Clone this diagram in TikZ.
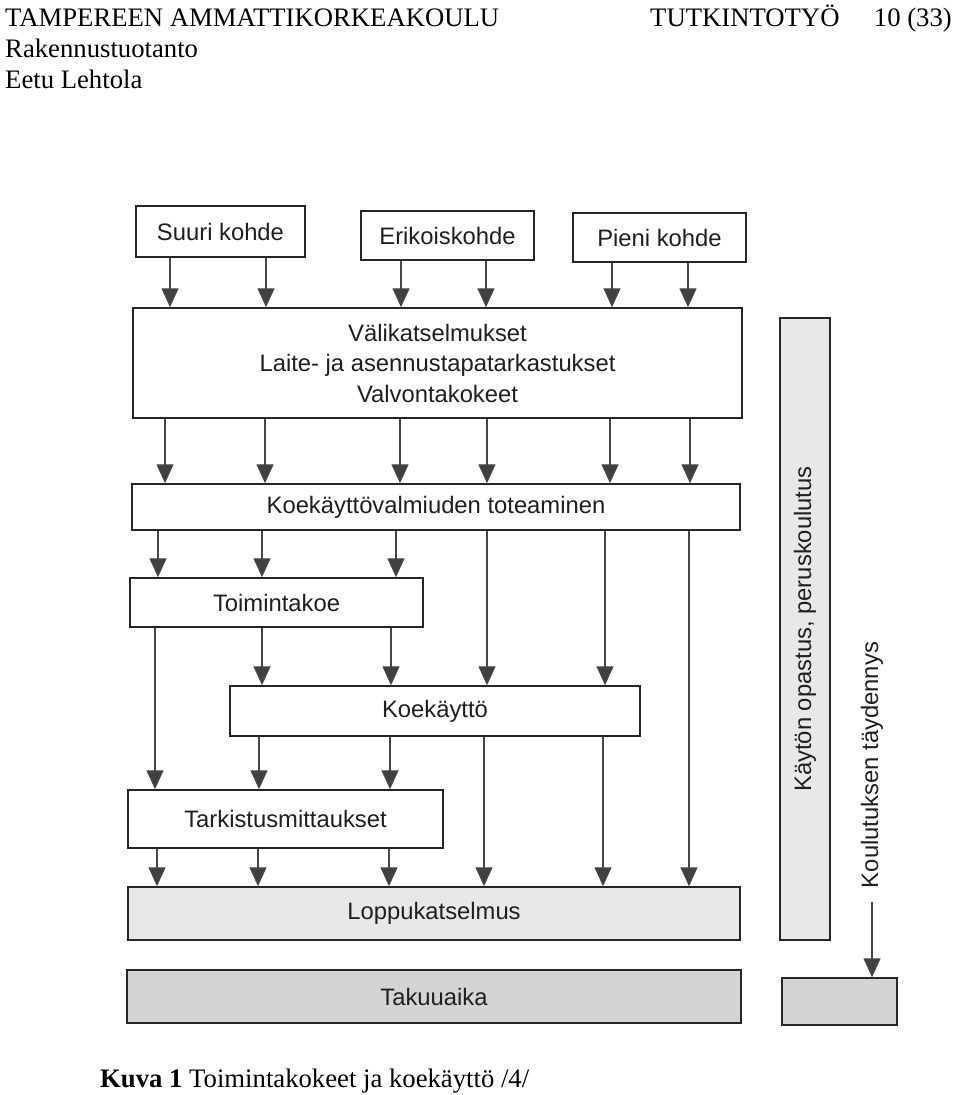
\documentclass[tikz,border=0pt]{standalone}
\usepackage{fontspec}
\setmainfont{Liberation Serif}
\newfontfamily\diagfont{Liberation Sans}
\usetikzlibrary{positioning,shapes,arrows.meta}

\begin{document}
\begin{tikzpicture}[x=1pt, y=-1pt,
  box/.style={draw=black!85, line width=1.4pt, inner sep=0pt, align=center,
    text=black!88, font=\diagfont\fontsize{23.8}{30.5}\selectfont},
  flow/.style={draw=black!72, line width=1.3pt, -{Triangle[width=17pt,length=19pt,fill=black!75]}},
  head/.style={inner sep=0pt, font=\fontsize{26.7}{31}\selectfont}]
  \useasboundingbox[fill=white] (0,0) rectangle (960,1095);

  % page head
  \node[head, anchor=base west] (school) at (5,26) {TAMPEREEN AMMATTIKORKEAKOULU};
  \node[head, anchor=base west] (work) at (650,26) {TUTKINTOTYÖ};
  \node[head, anchor=base east] (page) at (952,26) {10 (33)};
  \node[head, anchor=base west] (dept) at (5,57) {Rakennustuotanto};
  \node[head, anchor=base west] (writer) at (5,88) {Eetu Lehtola};

  % boxes
  \node[box, minimum width=169pt, minimum height=51pt] (suuri) at (220.5,231.5) {Suuri kohde};
  \node[box, minimum width=173pt, minimum height=49pt] (erikois) at (447.5,235.5) {Erikoiskohde};
  \node[box, minimum width=173pt, minimum height=49pt] (pieni) at (659.5,237.5) {Pieni kohde};
  \node[box, minimum width=609pt, minimum height=110pt] (vali) at (437.5,363)
    {Välikatselmukset\\Laite- ja asennustapatarkastukset\\Valvontakokeet};
  \node[box, minimum width=608pt, minimum height=46pt] (valmius) at (436,507) {Koekäyttövalmiuden toteaminen};
  \node[box, minimum width=293pt, minimum height=49pt] (toiminta) at (276.5,602.5) {Toimintakoe};
  \node[box, minimum width=410pt, minimum height=50pt] (koekaytto) at (435,711) {Koekäyttö};
  \node[box, minimum width=315pt, minimum height=58pt] (tarkistus) at (285.5,819) {Tarkistusmittaukset};
  \node[box, fill=black!9, minimum width=612pt, minimum height=53pt] (loppu) at (434,913.5) {Loppukatselmus};
  \node[box, fill=black!17, minimum width=614pt, minimum height=53pt] (takuu) at (434,996.5) {Takuuaika};
  \node[box, fill=black!9, rotate=90, minimum width=622pt, minimum height=50pt] (opastus) at (805,629)
    {Käytön opastus, peruskoulutus};
  \node[box, draw=none, rotate=90, inner xsep=13pt] (taydennys) at (872,765) {Koulutuksen täydennys};
  \node[box, fill=black!17, minimum width=115pt, minimum height=47pt] (jatko) at (839.5,1001.5) {};

  % connectors
  \foreach \x/\from in {170/suuri, 266/suuri, 401/erikois, 486/erikois, 612/pieni, 688/pieni}
    \draw[flow] (\from.south -| \x,0) -- (vali.north -| \x,0);
  \foreach \x in {165, 265, 400, 487, 610, 690}
    \draw[flow] (vali.south -| \x,0) -- (valmius.north -| \x,0);
  \foreach \x in {158, 262, 396}
    \draw[flow] (valmius.south -| \x,0) -- (toiminta.north -| \x,0);
  \foreach \x in {487, 605}
    \draw[flow] (valmius.south -| \x,0) -- (koekaytto.north -| \x,0);
  \draw[flow] (valmius.south -| 689,0) -- (loppu.north -| 689,0);
  \draw[flow] (toiminta.south -| 155,0) -- (tarkistus.north -| 155,0);
  \foreach \x in {262, 391}
    \draw[flow] (toiminta.south -| \x,0) -- (koekaytto.north -| \x,0);
  \foreach \x in {259, 390}
    \draw[flow] (koekaytto.south -| \x,0) -- (tarkistus.north -| \x,0);
  \foreach \x in {484, 603}
    \draw[flow] (koekaytto.south -| \x,0) -- (loppu.north -| \x,0);
  \foreach \x in {157, 258, 389}
    \draw[flow] (tarkistus.south -| \x,0) -- (loppu.north -| \x,0);
  \draw[flow] (taydennys.west) -- (jatko.north -| taydennys.west);

  % caption
  \node[head, anchor=base west] (caption) at (100,1087) {\textbf{Kuva 1} Toimintakokeet ja koekäyttö /4/};
\end{tikzpicture}
\end{document}
